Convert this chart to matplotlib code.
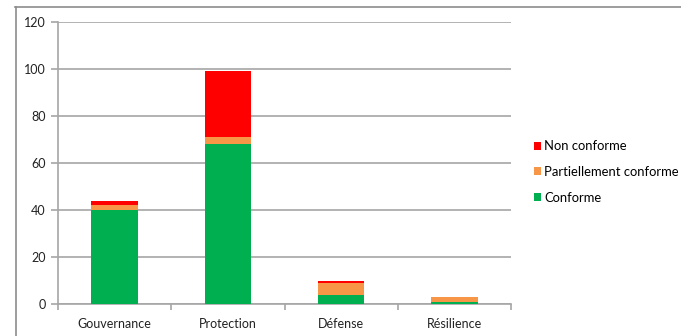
import matplotlib
matplotlib.use("Agg")
import matplotlib.pyplot as plt
from matplotlib.lines import Line2D
import numpy as np

categories = ["Gouvernance", "Protection", "Défense", "Résilience"]
conforme = [40, 68, 4, 1]
partiel = [2, 3, 5, 2]
non_conforme = [2, 28, 1, 0]
yticks = [0, 20, 40, 60, 80, 100, 120]

plt.rcParams['font.family'] = ['Lato', 'DejaVu Sans']
GREEN = "#00B050"
ORANGE = "#F79646"
RED = "#FF0000"
GRID = "#A6A6A6"

fig = plt.figure(figsize=(6.81, 3.36), dpi=100)
ax = fig.add_axes([58/681, 32/336, (511-58)/681, (304-22)/336])

x = np.arange(len(categories))
w = 0.41
c = np.array(conforme)
p = np.array(partiel)
n = np.array(non_conforme)
b1 = ax.bar(x, c, w, color=GREEN, label="Conforme", zorder=3)
b2 = ax.bar(x, p, w, bottom=c, color=ORANGE, label="Partiellement conforme", zorder=3)
b3 = ax.bar(x, n, w, bottom=c + p, color=RED, label="Non conforme", zorder=3)

ax.set_xlim(-0.5, len(categories) - 0.5)
ax.set_ylim(0, 120)
ax.set_yticks(yticks)
ax.yaxis.grid(True, color=GRID, lw=1.2, zorder=0)
ax.set_xticks(x)
ax.set_xticklabels(categories)
ax.set_xticks(np.arange(-0.5, len(categories)), minor=True)
ax.tick_params(axis='x', which='major', length=0, pad=10, labelsize=9, colors="#222222")
ax.tick_params(axis='x', which='minor', length=4, color=GRID, width=1.2)
ax.tick_params(axis='y', length=5, color=GRID, width=1.2, pad=4, labelsize=9, colors="#222222")
for s in ["top", "right"]:
    ax.spines[s].set_visible(False)
for s in ["left", "bottom"]:
    ax.spines[s].set_color(GRID)
    ax.spines[s].set_linewidth(1.2)

leg = fig.legend(handles=[b3, b2, b1], loc='center left',
                 bbox_to_anchor=(522/681, 164/336), frameon=False, fontsize=9.4,
                 handlelength=0.55, handleheight=0.55, handletextpad=0.25,
                 labelspacing=1.05)

fig.add_artist(Line2D([15.5/681, 15.5/681], [0, 1 - 6.5/336], transform=fig.transFigure,
                      color="#8C8C8C", lw=1.2))
fig.add_artist(Line2D([15/681, 1], [1 - 6.5/336, 1 - 6.5/336], transform=fig.transFigure,
                      color="#8C8C8C", lw=1.2))

fig.savefig("out.png", dpi=100)
